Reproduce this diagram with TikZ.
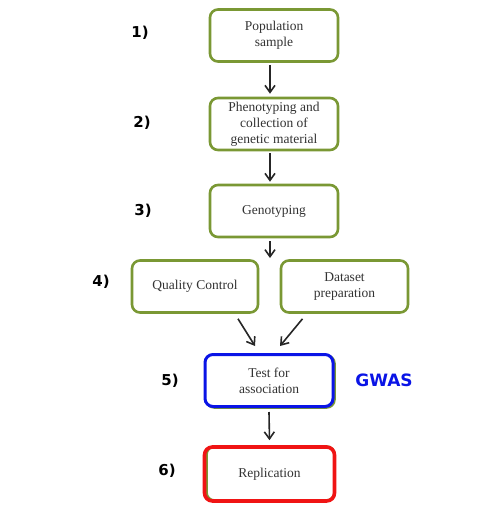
\documentclass[tikz,border=0pt]{standalone}
\usepackage{fontspec}
\setmainfont{Liberation Serif}
\newfontfamily\labfont{DejaVu Sans}
\usetikzlibrary{arrows.meta}
\definecolor{olivegreen}{RGB}{122,152,52}
\definecolor{gwasblue}{RGB}{10,20,230}
\definecolor{repred}{RGB}{240,20,20}
\begin{document}
\begin{tikzpicture}[x=1pt,y=-1pt,
  stepbox/.style={draw=olivegreen,line width=2.6pt,rounded corners=8pt,fill=white,
    minimum width=#1,minimum height=52pt,align=center,inner sep=2pt,
    font=\fontsize{13.5}{16}\selectfont,text=black!80},
  stepbox/.default=128pt,
  numlab/.style={font=\labfont\bfseries\fontsize{15}{17}\selectfont},
  arr/.style={-{Straight Barb[length=7pt,width=10pt,line width=1.6pt]},line width=1.6pt,black!85}]
\useasboundingbox (0,0) rectangle (480,507);
\node[stepbox] (pop) at (274,35.5) {Population\\sample};
\node[stepbox,yshift=-0.5pt] (phen) at (274,123.5) {Phenotyping and\\collection of\\genetic material};
\node[stepbox] (geno) at (274,211) {Genotyping};
\node[stepbox=126pt] (qc) at (195,286.5) {Quality Control};
\node[stepbox=127pt] (data) at (344.5,286.5) {Dataset\\preparation};
\node[stepbox=128pt] (testg) at (270.5,381.5) {};
\node[stepbox=128pt,draw=gwasblue,line width=3pt] (test) at (269,380.5) {Test for\\association};
\node[stepbox=128pt,draw=olivegreen,minimum height=54pt] (repg) at (270.5,473.5) {};
\node[stepbox=130pt,draw=repred,line width=3.6pt,minimum height=54pt,fill=none] (rep) at (269.5,474) {Replication};
\node[numlab] (l1) at (140,33) {1)};
\node[numlab] (l2) at (142,123) {2)};
\node[numlab] (l3) at (143,211) {3)};
\node[numlab] (l4) at (101,282) {4)};
\node[numlab] (l5) at (170,381) {5)};
\node[numlab] (l6) at (167,471) {6)};
\node[font=\labfont\bfseries\fontsize{17}{19}\selectfont,text=gwasblue] (gwas) at (384,380) {GWAS};
\coordinate (m4) at (270,258);
\draw[arr] ([xshift=-4pt,yshift=-2pt]pop.south) -- ([xshift=-4pt,yshift=3pt]phen.north);
\draw[arr] ([xshift=-4pt,yshift=-2pt]phen.south) -- ([xshift=-4pt,yshift=2pt]geno.north);
\draw[arr] ([xshift=-4pt,yshift=-3pt]geno.south) -- (m4);
\draw[arr] ([xshift=43pt,yshift=-5pt]qc.south) -- ([xshift=-14pt,yshift=7pt]test.north);
\draw[arr] ([xshift=-42pt,yshift=-5pt]data.south) -- ([xshift=11pt,yshift=7pt]test.north);
\draw[arr] ([yshift=-4pt]test.south) -- ([yshift=5pt]rep.north);
\end{tikzpicture}
\end{document}
